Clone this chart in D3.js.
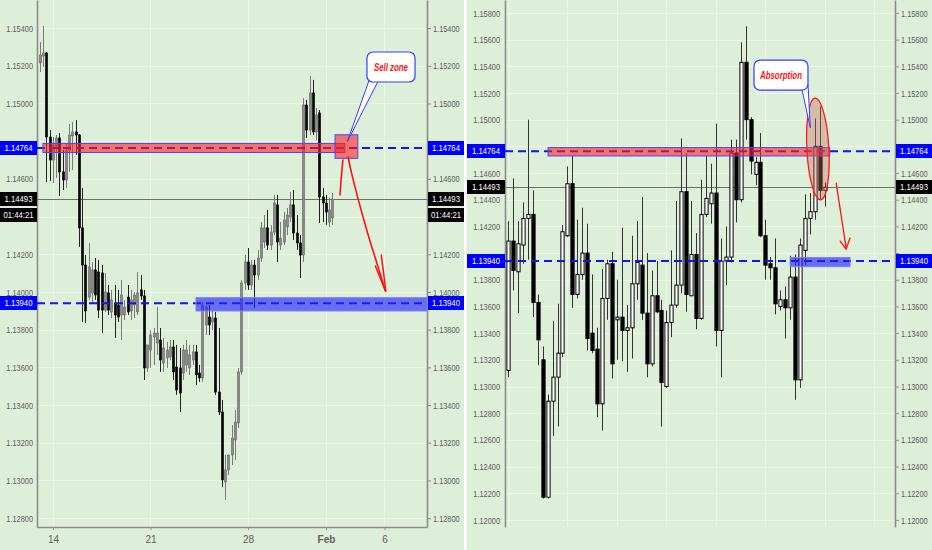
<!DOCTYPE html>
<html><head><meta charset="utf-8">
<script src="https://cdn.jsdelivr.net/npm/d3@7/dist/d3.min.js"></script>
<style>
html,body{margin:0;padding:0;background:#ddefd9;}
svg{display:block;font-family:"Liberation Sans",Arial,sans-serif;}
</style></head>
<body><svg id="c" width="932" height="550"></svg>
<script>
// ---------- LEFT PANEL (4H candles, EURUSD) ----------
const leftOpen = [1.15215,1.15252,1.15268,1.14822,1.14700,1.14775,1.14817,1.14637,1.14594,1.14753,
1.14828,1.14849,1.14833,1.14340,1.14143,1.13973,1.13995,1.14117,1.14106,1.14101,
1.13904,1.13995,1.13894,1.13942,1.13931,1.13878,1.13878,1.13973,1.13899,1.13931,
1.13894,1.14011,1.13979,1.13597,1.13692,1.13761,1.13729,1.13745,1.13623,1.13650,
1.13655,1.13708,1.13602,1.13597,1.13570,1.13613,1.13597,1.13639,1.13682,1.13570,
1.13544,1.13825,1.13867,1.13841,1.13862,1.13469,1.13363,1.12992,1.13056,1.13135,
1.13215,1.13305,1.13576,1.14048,1.14159,1.14037,1.14143,1.14090,1.14180,1.14265,
1.14340,1.14249,1.14318,1.14462,1.14249,1.14265,1.14345,1.14398,1.14462,1.14313,
1.14260,1.14196,1.14992,1.14859,1.15056,1.14849,1.14950,1.14504,1.14472,1.14371,
1.14393];
const leftHigh = [1.15326,1.15411,1.15273,1.14859,1.14822,1.14833,1.14843,1.14753,1.14790,1.14891,
1.14902,1.14912,1.14838,1.14552,1.14196,1.14260,1.14159,1.14180,1.14170,1.14143,
1.14101,1.14037,1.14011,1.14037,1.14011,1.14064,1.13958,1.14037,1.14011,1.14000,
1.14106,1.14090,1.14011,1.13719,1.13798,1.13809,1.13920,1.13809,1.13756,1.13735,
1.13745,1.13745,1.13719,1.13703,1.13719,1.13745,1.13719,1.13719,1.13719,1.13613,
1.13947,1.13931,1.13931,1.13904,1.13894,1.13809,1.13427,1.13135,1.13135,1.13294,
1.13374,1.13597,1.14064,1.14196,1.14233,1.14170,1.14170,1.14223,1.14371,1.14408,
1.14435,1.14355,1.14515,1.14515,1.14371,1.14424,1.14446,1.14530,1.14541,1.14408,
1.14302,1.15029,1.15019,1.15146,1.15125,1.14976,1.14965,1.14552,1.14515,1.14499,
1.14525];
const leftLow = [1.15167,1.15194,1.14584,1.14589,1.14578,1.14605,1.14509,1.14541,1.14552,1.14637,
1.14647,1.14727,1.14239,1.13841,1.13835,1.13958,1.13942,1.13958,1.13862,1.13782,
1.13894,1.13878,1.13862,1.13756,1.13841,1.13745,1.13851,1.13878,1.13851,1.13862,
1.13878,1.13958,1.13533,1.13576,1.13597,1.13613,1.13666,1.13576,1.13576,1.13597,
1.13639,1.13533,1.13454,1.13363,1.13533,1.13576,1.13560,1.13613,1.13507,1.13523,
1.13523,1.13772,1.13772,1.13798,1.13454,1.13347,1.12966,1.12897,1.13029,1.13082,
1.13109,1.13279,1.13560,1.14011,1.14011,1.14011,1.13915,1.14064,1.14159,1.14233,
1.14223,1.14223,1.14302,1.14159,1.14223,1.14249,1.14302,1.14371,1.14276,1.14223,
1.14074,1.14159,1.14817,1.14833,1.14833,1.14806,1.14366,1.14371,1.14355,1.14345,
1.14355];
const leftClose = [1.15257,1.15268,1.14822,1.14700,1.14780,1.14817,1.14637,1.14594,1.14753,1.14833,
1.14849,1.14833,1.14340,1.14143,1.13899,1.14133,1.14117,1.13984,1.13904,1.13904,
1.14000,1.13904,1.13958,1.13878,1.13867,1.13984,1.13920,1.13894,1.13958,1.13984,
1.13995,1.13979,1.13597,1.13719,1.13772,1.13782,1.13782,1.13639,1.13703,1.13692,
1.13708,1.13576,1.13480,1.13464,1.13692,1.13692,1.13666,1.13682,1.13560,1.13544,
1.13931,1.13920,1.13825,1.13862,1.13469,1.13363,1.13003,1.13056,1.13135,1.13225,
1.13310,1.13576,1.14048,1.14159,1.14037,1.14143,1.14090,1.14180,1.14340,1.14340,
1.14249,1.14318,1.14472,1.14265,1.14286,1.14382,1.14408,1.14462,1.14313,1.14260,
1.14196,1.14992,1.14859,1.15056,1.14849,1.14939,1.14504,1.14472,1.14424,1.14435,
1.14493];
const leftPriceTicks = [1.128,1.130,1.132,1.134,1.136,1.138,1.140,1.142,1.144,1.146,1.148,1.150,1.152,1.154];
const leftDateIdx = [4,34,64,88,106];
const leftDateLabels = ["14","21","28","Feb","6"];
const leftDateBold = [false,false,false,true,false];

// ---------- RIGHT PANEL (daily candles) ----------
const rightOpen = [1.1312,1.1409,1.1386,1.1406,1.1426,1.1429,1.1363,1.1320,1.1217,1.1289,
1.1307,1.1325,1.1413,1.1452,1.1369,1.1384,1.1400,1.1340,1.1328,1.1287,
1.1366,1.1392,1.1350,1.1352,1.1342,1.1344,1.1377,1.1391,1.1355,1.1317,
1.1368,1.1357,1.1300,1.1348,1.1361,1.1376,1.1446,1.1368,1.1399,1.1351,
1.1429,1.1437,1.1445,1.1342,1.1394,1.1397,1.1475,1.1440,1.1543,1.1500,
1.1459,1.1468,1.1413,1.1392,1.1389,1.1360,1.1365,1.1359,1.1382,1.1305,
1.1402,1.1426,1.1431,1.1480,1.1447];
const rightHigh = [1.1424,1.1456,1.1424,1.1438,1.1500,1.1447,1.1369,1.1330,1.1294,1.1349,
1.1362,1.1421,1.1465,1.1473,1.1425,1.1434,1.1422,1.1384,1.1344,1.1388,
1.1395,1.1401,1.1380,1.1419,1.1361,1.1413,1.1424,1.1442,1.1400,1.1387,
1.1394,1.1365,1.1357,1.1402,1.1439,1.1486,1.1475,1.1439,1.1415,1.1455,
1.1473,1.1467,1.1497,1.1411,1.1420,1.1485,1.1485,1.1558,1.1570,1.1502,
1.1472,1.1490,1.1425,1.1397,1.1411,1.1372,1.1375,1.1398,1.1399,1.1411,
1.1444,1.1445,1.1501,1.1510,1.1453];
const rightLow = [1.1307,1.1372,1.1355,1.1392,1.1395,1.1352,1.1316,1.1216,1.1216,1.1263,
1.1270,1.1322,1.1412,1.1359,1.1366,1.1380,1.1327,1.1325,1.1277,1.1267,
1.1350,1.1306,1.1320,1.1319,1.1311,1.1321,1.1365,1.1350,1.1307,1.1315,
1.1355,1.1270,1.1299,1.1337,1.1359,1.1370,1.1356,1.1368,1.1343,1.1350,
1.1427,1.1422,1.1330,1.1307,1.1376,1.1393,1.1423,1.1438,1.1485,1.1459,
1.1451,1.1412,1.1380,1.1380,1.1354,1.1357,1.1336,1.1350,1.1290,1.1299,
1.1391,1.1414,1.1425,1.1440,1.1435];
const rightClose = [1.1409,1.1387,1.1407,1.1426,1.1429,1.1363,1.1335,1.1217,1.1289,1.1307,
1.1325,1.1416,1.1452,1.1369,1.1384,1.1400,1.1336,1.1327,1.1287,1.1366,
1.1392,1.1317,1.1352,1.1342,1.1344,1.1377,1.1393,1.1355,1.1317,1.1368,
1.1356,1.1303,1.1348,1.1361,1.1376,1.1446,1.1369,1.1399,1.1351,1.1429,
1.1441,1.1445,1.1342,1.1394,1.1397,1.1475,1.1440,1.1543,1.1500,1.1469,
1.1468,1.1413,1.1391,1.1389,1.1362,1.1365,1.1359,1.1382,1.1305,1.1406,
1.1426,1.1431,1.1480,1.1447,1.14493];
const rightPriceTicks = [1.120,1.122,1.124,1.126,1.128,1.130,1.132,1.134,1.136,1.138,1.140,1.142,1.144,1.146,1.148,1.150,1.152,1.154,1.156,1.158];
const rightDateIdx = [0,12,22,32,42,52,64,74];
const rightDateLabels = ["Nov","19","Dec","17","2019","16","Feb","15"];
const rightDateBold = [false,false,false,false,true,false,false,false];

// ---------- levels / annotations ----------
const resistance = 1.14764;
const support = 1.13940;
const lastPrice = 1.14493;
const countdown = "01:44:21";
// zones: [idxStart, idxEnd, priceLow, priceHigh]
const leftRedZone = [0.9, 93.8, 1.14740, 1.14788];
const leftSellBox = [90.8, 97.8, 1.14709, 1.14834];
const leftBlueZone = [48, 119.1, 1.13899, 1.13970];
const rightRedZone = [8.1, 65.0, 1.14728, 1.14791];
const rightBlueZone = [57.0, 69.1, 1.13898, 1.13967];
const rightEllipse = [62.6, 1.14780]; // centre (idx, price)
// callouts: [idxStart, idxEnd, priceTop, priceBottom]
const sellCallout = [100.6, 115.4, 1.15273, 1.15114];
const sellTail = [[101.2,1.15120],[94.6,1.14799],[103.9,1.15114]];
const absCallout = [49.7, 60.6, 1.15447, 1.15222];
const absTail = [[59.4,1.15222],[61.07,1.14940],[60.6,1.15267]];
// hand drawn arrows (idx, price)
const leftArrowUp = [[92.3,1.14515],[92.7,1.14605],[93.2,1.14700]];
const leftArrowDown = [[94.8,1.14716],[96.0,1.14621],[97.8,1.14499],[100.0,1.14361],[102.2,1.14233],[104.3,1.14117],[106.3,1.14005]];
const leftArrowHeadA = [[103.2,1.14138],[106.3,1.14005]];
const leftArrowHeadB = [[105.0,1.14196],[105.8,1.14090],[106.4,1.14005]];
const rightArrow = [[66.3,1.14525],[68.3,1.14038]];
const rightArrowHead = [[67.1,1.14090],[68.3,1.14030],[69.1,1.14113]];

// ---------- drawing ----------
const svg = d3.select('#c');
const BG = '#ddefd9';
svg.append('rect').attr('width',932).attr('height',550).attr('fill',BG);
const TXT = '#5e5e5e', FRAME = '#8c8c8c', BLUE = '#0000ff', DASH = '#1414ee';
const fmt = d3.format('.5f');
const SQ = 0.77; // horizontal condensing of price text

// condense text horizontally around its anchor point
function condense(sel, f){
  sel.each(function(){
    const t = d3.select(this);
    const x = +t.attr('x') || 0;
    t.attr('x', x / f).attr('transform', `scale(${f},1)`);
  });
}

function drawPanel(p){
  const x = d3.scaleLinear().domain(p.xDomain).range(p.xRange);
  const y = d3.scaleLinear().domain(p.yDomain).range([527,0]);
  const [x0,x1] = p.xRange;
  const clipId = 'clip'+p.id;
  svg.append('clipPath').attr('id',clipId).append('rect')
     .attr('x',x0).attr('y',0).attr('width',x1-x0).attr('height',527);
  const g = svg.append('g');
  // grid
  const grid = g.append('g').attr('clip-path',`url(#${clipId})`);
  grid.selectAll(null).data(p.yTicks).enter().append('line')
    .attr('x1',x0).attr('x2',x1)
    .attr('y1',d=>Math.round(y(d))+0.5).attr('y2',d=>Math.round(y(d))+0.5)
    .attr('stroke','#ebf6e9').attr('stroke-width',1);
  grid.selectAll(null).data(p.dateIdx).enter().append('line')
    .attr('x1',d=>Math.round(x(d))+0.5).attr('x2',d=>Math.round(x(d))+0.5)
    .attr('y1',0).attr('y2',527)
    .attr('stroke','#ebf6e9').attr('stroke-width',1);

  // price labels hidden behind the price boxes
  const covered = p.boxCentres.map(v=>y(v));
  const shown = d3.format('.5f');
  const tf = d => covered.some(c=>Math.abs(y(d)-c) < 9) ? '' : shown(d);

  // axes
  const axL = g.append('g').attr('transform',`translate(${x0},0)`)
    .call(d3.axisLeft(y).tickValues(p.yTicks).tickFormat(tf).tickSize(p.leftTick).tickSizeOuter(0).tickPadding(p.leftPad));
  const axR = g.append('g').attr('transform',`translate(${x1},0)`)
    .call(d3.axisRight(y).tickValues(p.yTicks).tickFormat(tf).tickSize(4).tickSizeOuter(0).tickPadding(p.rightPad));
  const axB = g.append('g').attr('transform','translate(0,527)')
    .call(d3.axisBottom(x).tickValues(p.dateIdx).tickFormat((d,i)=>p.dateLabels[i]).tickSize(3).tickSizeOuter(0).tickPadding(6));
  [axL,axR,axB].forEach(a=>{
    a.select('.domain').attr('stroke',FRAME).attr('stroke-width',1.6);
    a.selectAll('.tick line').attr('stroke',FRAME);
    a.selectAll('.tick text').attr('fill',TXT).attr('font-size',10)
      .attr('font-family','"Liberation Sans",Arial,sans-serif');
  });
  [axL,axR].forEach(a=>{
    a.selectAll('.tick text').attr('font-size',9.6);
    condense(a.selectAll('.tick text'), SQ);
  });
  axB.selectAll('.tick text').attr('font-weight',(d,i)=>p.dateBold[i]?'bold':'normal');
  if(p.dateClip){
    svg.append('clipPath').attr('id','dclip'+p.id).append('rect').attr('x',p.dateClip).attr('y',527).attr('width',932).attr('height',23);
    axB.attr('clip-path',`url(#dclip${p.id})`);
  }

  const plot = g.append('g').attr('clip-path',`url(#${clipId})`);
  // last price line
  plot.append('line').attr('x1',x0).attr('x2',x1)
    .attr('y1',Math.round(y(lastPrice))+0.5).attr('y2',Math.round(y(lastPrice))+0.5)
    .attr('stroke','#6e6e6e').attr('stroke-width',1);

  // candles
  const n = p.O.length;
  const idx = d3.range(n);
  const cg = plot.append('g');
  cg.selectAll('line.w').data(idx).enter().append('line')
    .attr('x1',i=>Math.round(x(i))+0.5).attr('x2',i=>Math.round(x(i))+0.5)
    .attr('y1',i=>y(p.H[i])).attr('y2',i=>y(p.L[i]))
    .attr('stroke',i=>p.C[i]>=p.O[i]?p.upWick:p.downWick).attr('stroke-width',1);
  cg.selectAll('rect.b').data(idx).enter().append('rect')
    .attr('x',i=>Math.round(x(i))+0.5-p.bw/2)
    .attr('width',p.bw)
    .attr('y',i=>y(Math.max(p.O[i],p.C[i])))
    .attr('height',i=>Math.max(1,Math.abs(y(p.O[i])-y(p.C[i]))))
    .attr('fill',i=>p.C[i]>=p.O[i]?p.upFill:p.downFill)
    .attr('stroke',i=>p.C[i]>=p.O[i]?p.upStroke:p.downFill)
    .attr('stroke-width',p.bs);

  // dashed level lines
  [resistance,support].forEach(v=>{
    plot.append('line').attr('x1',x0).attr('x2',x1).attr('y1',y(v)).attr('y2',y(v))
      .attr('stroke',DASH).attr('stroke-width',2).attr('stroke-dasharray','8,5');
  });

  return {x,y,plot,g};
}

function zone(plot,x,y,z,fill,stroke,op){
  plot.append('rect').attr('x',x(z[0])).attr('width',x(z[1])-x(z[0]))
    .attr('y',y(z[3])).attr('height',y(z[2])-y(z[3]))
    .attr('fill',fill).attr('fill-opacity',op).attr('stroke',stroke).attr('stroke-width',1);
}
function priceBox(px,w,cy,text,fill){
  svg.append('rect').attr('x',px).attr('y',Math.round(cy)-7).attr('width',w).attr('height',14).attr('fill',fill);
  const t = svg.append('text').attr('x',px+w/2).attr('y',Math.round(cy)+3.5).attr('text-anchor','middle')
    .attr('fill','#fff').attr('font-size',9.8).text(text);
  condense(t, 0.79);
}
function callout(x,y,c,tail,label,tl){
  const bx=x(c[0]), bw=x(c[1])-x(c[0]), by=y(c[2]), bh=y(c[3])-y(c[2]);
  svg.append('path').attr('d',d3.line()(tail.map(t=>[x(t[0]),y(t[1])])))
    .attr('fill','#fff').attr('stroke','#3a3aff').attr('stroke-width',1);
  svg.append('rect').attr('x',bx).attr('y',by).attr('width',bw).attr('height',bh).attr('rx',6)
    .attr('fill','#fff').attr('stroke','#3a3aff').attr('stroke-width',1.2);
  svg.append('text').attr('x',bx+bw/2).attr('y',by+bh/2+3.8).attr('text-anchor','middle')
    .attr('fill','#ff1010').attr('font-size',11).attr('font-weight','bold').attr('font-style','italic')
    .attr('textLength',tl).attr('lengthAdjust','spacingAndGlyphs').text(label);
}
function stroke(x,y,pts,curve,w){
  svg.append('path').attr('d',d3.line().x(d=>x(d[0])).y(d=>y(d[1])).curve(curve||d3.curveLinear)(pts))
    .attr('fill','none').attr('stroke','#ff1010').attr('stroke-width',w||1.5).attr('stroke-linecap','round');
}

// LEFT
const L = drawPanel({id:'L', xDomain:[-0.923,119.08], xRange:[37,427], yDomain:[1.12753,1.15549],
  yTicks:leftPriceTicks, dateIdx:leftDateIdx, dateLabels:leftDateLabels, dateBold:leftDateBold,
  boxCentres:[resistance, 1.14400],
  O:leftOpen,H:leftHigh,L:leftLow,C:leftClose, bw:2.2, bs:0.6,
  upFill:'#8a8a8a', upStroke:'#6a6a6a', downFill:'#050505', upWick:'#7a7a7a', downWick:'#222',
  leftTick:0, leftPad:4, rightPad:2});
zone(L.plot,L.x,L.y,leftRedZone,'#ff2020','#4646ff',0.6);
zone(L.plot,L.x,L.y,leftBlueZone,'#1e1eff','#8080ff',0.62);
zone(L.plot,L.x,L.y,leftSellBox,'#ff2020','#4646ff',0.6);

// RIGHT
const R = drawPanel({id:'R', xDomain:[-0.606,78.18], xRange:[505,895], yDomain:[1.11947,1.15897],
  yTicks:rightPriceTicks, dateIdx:rightDateIdx, dateLabels:rightDateLabels, dateBold:rightDateBold, dateClip:505,
  boxCentres:[resistance, support],
  O:rightOpen,H:rightHigh,L:rightLow,C:rightClose, bw:3.2, bs:1,
  upFill:'#ffffff', upStroke:'#000', downFill:'#000', upWick:'#333', downWick:'#333',
  leftTick:0, leftPad:5, rightPad:2});
zone(R.plot,R.x,R.y,rightRedZone,'#ff2020','#4646ff',0.6);
zone(R.plot,R.x,R.y,rightBlueZone,'#1e1eff','#8080ff',0.62);
R.plot.append('ellipse').attr('cx',R.x(rightEllipse[0])).attr('cy',R.y(rightEllipse[1]))
  .attr('rx',11).attr('ry',51)
  .attr('transform',`rotate(-3 ${R.x(rightEllipse[0])} ${R.y(rightEllipse[1])})`)
  .attr('fill','#c86a5a').attr('fill-opacity',0.38).attr('stroke','#ff1a1a').attr('stroke-width',1.3);

// separator
svg.append('rect').attr('x',464).attr('y',0).attr('width',2.5).attr('height',550).attr('fill','#ffffff');

// price boxes
[[0,37],[428,36]].forEach(([px,w])=>{
  priceBox(px,w,L.y(resistance),fmt(resistance),BLUE);
  priceBox(px,w,L.y(lastPrice),fmt(lastPrice),'#000');
  priceBox(px,w,L.y(lastPrice)+16,countdown,'#000');
  priceBox(px,w,L.y(support),fmt(support),BLUE);
});
[[467,38],[896,36]].forEach(([px,w])=>{
  priceBox(px,w,R.y(resistance),fmt(resistance),BLUE);
  priceBox(px,w,R.y(lastPrice),fmt(lastPrice),'#000');
  priceBox(px,w,R.y(support),fmt(support),BLUE);
});

// annotations
callout(L.x,L.y,sellCallout,sellTail,'Sell zone',34);
callout(R.x,R.y,absCallout,absTail,'Absorption',42);
stroke(L.x,L.y,leftArrowUp,d3.curveCatmullRom,1.6);
stroke(L.x,L.y,leftArrowDown,d3.curveCatmullRom,1.6);
stroke(L.x,L.y,leftArrowHeadA,d3.curveLinear,1.5);
stroke(L.x,L.y,leftArrowHeadB,d3.curveCatmullRom,1.5);
stroke(R.x,R.y,rightArrow,d3.curveLinear,1.3);
stroke(R.x,R.y,rightArrowHead,d3.curveLinear,1.3);
</script>
</body></html>
